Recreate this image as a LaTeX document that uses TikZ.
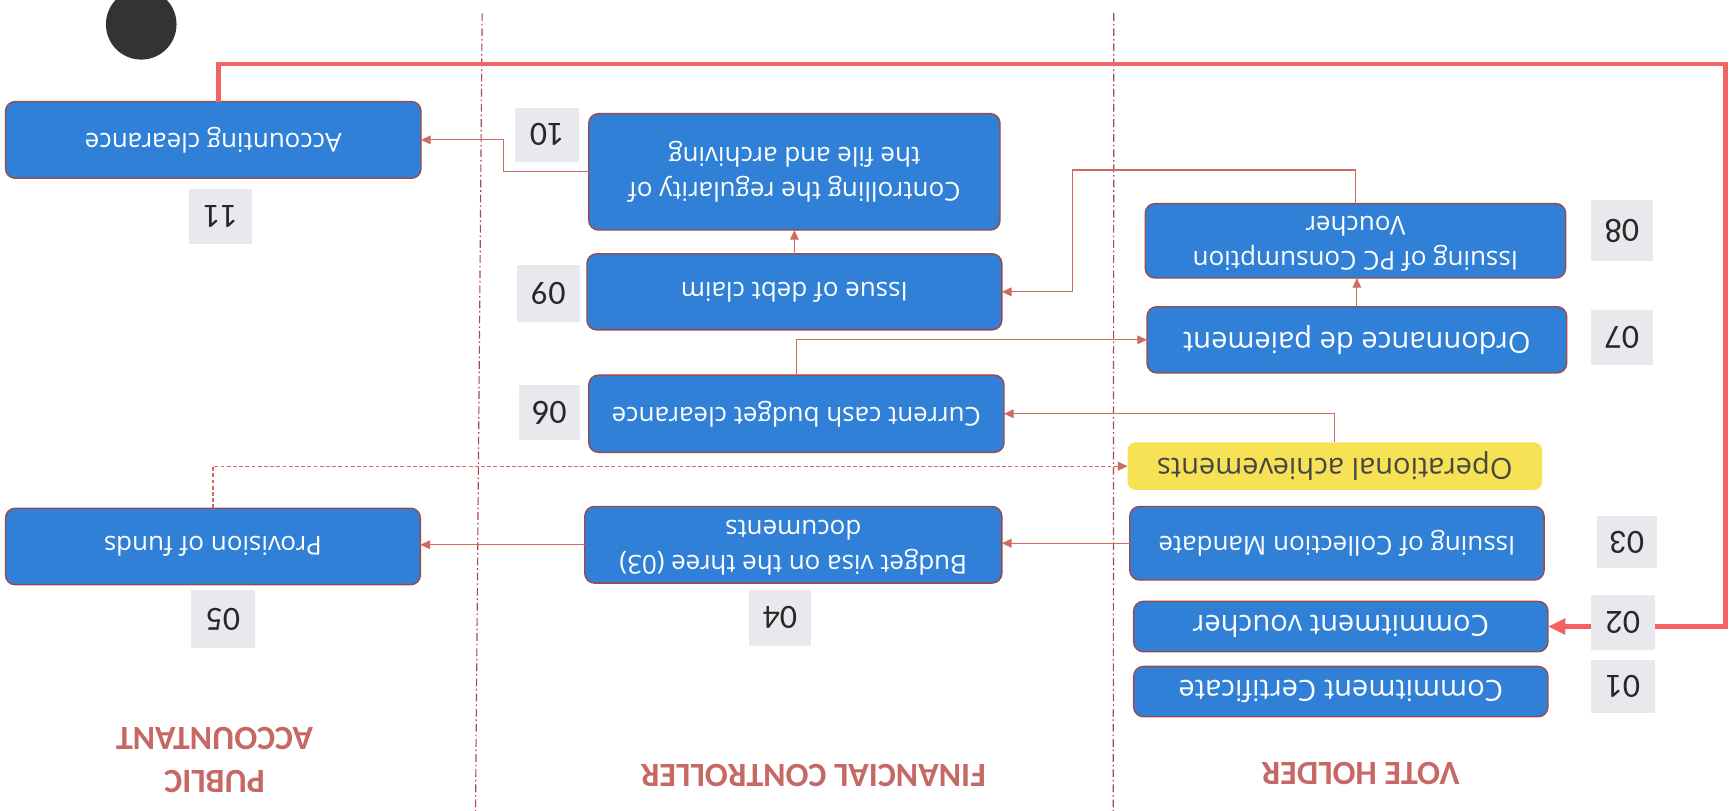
\documentclass[tikz,border=0pt]{standalone}
\usepackage{fontspec}
\setmainfont{Open Sans}
\newfontfamily\numfont{Carlito}
\usepackage{graphicx}
\usetikzlibrary{arrows.meta}

\definecolor{boxblue}{RGB}{47,128,214}
\definecolor{boxedge}{RGB}{160,72,72}
\definecolor{flowline}{RGB}{206,108,98}
\definecolor{mainline}{RGB}{242,98,98}
\definecolor{lanered}{RGB}{178,70,70}
\definecolor{lanetext}{RGB}{198,104,100}
\definecolor{tagfill}{RGB}{231,233,237}
\definecolor{tagtext}{RGB}{40,40,40}
\definecolor{opfill}{RGB}{246,226,84}
\definecolor{optext}{RGB}{70,70,70}
\definecolor{blob}{RGB}{51,51,51}

% one drawing unit
\newcommand\pxu{0.02cm}
% the whole sheet is printed turned half a revolution
\newcommand\upsd[1]{\rotatebox[origin=c]{180}{#1}}
\newcommand\twolines[2]{\upsd{\begin{tabular}{@{}c@{}}#1\\#2\end{tabular}}}

\tikzset{
  stage/.style={draw=boxedge, line width=0.7pt, fill=boxblue, rounded corners=5pt,
    text=white, inner sep=0pt, outer sep=0pt, font=\fontsize{13.4}{18}\selectfont},
  stagebig/.style={stage, font=\fontsize{15}{19}\selectfont},
  achieve/.style={fill=opfill, rounded corners=4pt, text=optext, inner sep=0pt,
    outer sep=0pt, font=\fontsize{15}{19}\selectfont},
  tag/.style={fill=tagfill, text=tagtext, inner sep=0pt, outer sep=0pt,
    font=\numfont\fontsize{17.5}{20}\selectfont},
  lanetitle/.style={text=lanetext, inner sep=0pt, font=\numfont\bfseries\fontsize{17.5}{22}\selectfont},
  flow/.style={draw=flowline, line width=0.6pt, -{Triangle[length=5pt,width=4.5pt]}},
  flowdash/.style={flow, dash pattern=on 2pt off 1.2pt},
  mainflow/.style={draw=mainline, line width=2.2pt, -{Triangle[length=9pt,width=8pt]}},
  lane/.style={draw=lanered, line width=0.6pt, dash pattern=on 4pt off 1.5pt on 0.8pt off 1.5pt},
}

\begin{document}
\begin{tikzpicture}[x=0.02cm,y=-0.02cm]
\fill[white] (0,0) rectangle (1568,735);
\useasboundingbox (0,0) rectangle (1568,735);
\clip (0,0) rectangle (1568,735);

% swim-lane separators
\coordinate (laneAtop) at (437,12);
\coordinate (laneAbot) at (431,735);
\coordinate (laneBtop) at (1009.5,12);
\coordinate (laneBbot) at (1009,735);
\draw[lane] (laneAtop) -- (laneAbot);
\draw[lane] (laneBtop) -- (laneBbot);

% marker disc
\node[circle, fill=blob, minimum size=64*\pxu, inner sep=0pt] (disc) at (128,22) {};

% public accountant lane
\node[stage, minimum width=376.6*\pxu, minimum height=69.6*\pxu] (acc) at (193.3,126.8) {\upsd{Accounting clearance}};
\node[stage, minimum width=376*\pxu, minimum height=69.4*\pxu] (prov) at (193,495.3) {\upsd{Provision of funds}};

% financial controller lane
\node[stage, minimum width=372.8*\pxu, minimum height=105.5*\pxu] (ctrl) at (720,155.75)
  {\twolines{Controlling the regularity of}{the file and archiving}};
\node[stage, minimum width=376*\pxu, minimum height=69*\pxu] (debt) at (720,264.5) {\upsd{Issue of debt claim}};
\node[stage, minimum width=376.4*\pxu, minimum height=70*\pxu] (cash) at (721.8,375) {\upsd{Current cash budget clearance}};
\node[stage, minimum width=378*\pxu, minimum height=69.5*\pxu] (visa) at (719,493.75)
  {\twolines{Budget visa on the three (03)}{documents}};

% vote holder lane
\node[stage, minimum width=381*\pxu, minimum height=67.5*\pxu] (pc) at (1228.5,218.25)
  {\twolines{Issuing of PC Consumption}{Voucher}};
\node[stagebig, minimum width=380.4*\pxu, minimum height=60*\pxu] (ord) at (1229.8,308) {\upsd{Ordonnance de paiement}};
\node[achieve, minimum width=375.6*\pxu, minimum height=43*\pxu] (op) at (1209.8,422.5) {\upsd{Operational achievements}};
\node[stage, minimum width=375.5*\pxu, minimum height=66.7*\pxu] (coll) at (1211.75,492.35) {\upsd{Issuing of Collection Mandate}};
\node[stagebig, minimum width=375.5*\pxu, minimum height=45.7*\pxu] (cvou) at (1215.25,567.85) {\upsd{Commitment voucher}};
\node[stagebig, minimum width=375.5*\pxu, minimum height=45.6*\pxu] (ccert) at (1215.25,626.8) {\upsd{Commitment Certificate}};

% bend points
\coordinate (bendA) at (456,0);
\coordinate (bendB) at (972,154);
\coordinate (loopL) at (198,58);
\coordinate (loopR) at (1564,58);

% connectors
\draw[flow] (ctrl.west) -- (ctrl.west -| bendA) |- (acc.east);
\draw[flow] (debt.north) -- (debt.north |- ctrl.south);
\draw[flow] (pc.north) |- (bendB) |- (debt.east);
\draw[flow] (ord.north) -- (ord.north |- pc.south);
\draw[flow] (cash.north) |- (ord.west);
\draw[flow] (op.north) |- (cash.east);
\draw[flowdash] (prov.north) |- (op.west);
\draw[flow] (coll.west) -- (coll.west -| visa.east);
\draw[flow] (visa.west) -- (visa.west -| prov.east);
\draw[mainflow] (acc.north -| loopL) -- (loopL) -- (loopR) |- (cvou.east);

% step numbers
\node[tag, minimum width=58*\pxu, minimum height=49*\pxu] (t10) at (496,122) {\upsd{10}};
\node[tag, minimum width=57*\pxu, minimum height=50*\pxu] (t11) at (200,196) {\upsd{11}};
\node[tag, minimum width=57*\pxu, minimum height=51*\pxu] (t09) at (497,266) {\upsd{09}};
\node[tag, minimum width=55*\pxu, minimum height=50*\pxu] (t06) at (498,374) {\upsd{06}};
\node[tag, minimum width=56*\pxu, minimum height=51*\pxu] (t04) at (707,560) {\upsd{04}};
\node[tag, minimum width=58*\pxu, minimum height=52*\pxu] (t05) at (202,561) {\upsd{05}};
\node[tag, minimum width=56*\pxu, minimum height=56*\pxu] (t08) at (1470,209) {\upsd{08}};
\node[tag, minimum width=56*\pxu, minimum height=50*\pxu] (t07) at (1470,306) {\upsd{07}};
\node[tag, minimum width=55*\pxu, minimum height=47*\pxu] (t03) at (1474.5,491.5) {\upsd{03}};
\node[tag, minimum width=58*\pxu, minimum height=50*\pxu] (t02) at (1471,564) {\upsd{02}};
\node[tag, minimum width=58*\pxu, minimum height=48*\pxu] (t01) at (1471,622) {\upsd{01}};

% lane titles
\node[lanetitle] (laneVH) at (1233,701) {\upsd{VOTE HOLDER}};
\node[lanetitle] (laneFC) at (737,703) {\upsd{FINANCIAL CONTROLLER}};
\node[lanetitle] (lanePA) at (194.5,686.5) {\twolines{PUBLIC}{ACCOUNTANT}};
\end{tikzpicture}
\end{document}
